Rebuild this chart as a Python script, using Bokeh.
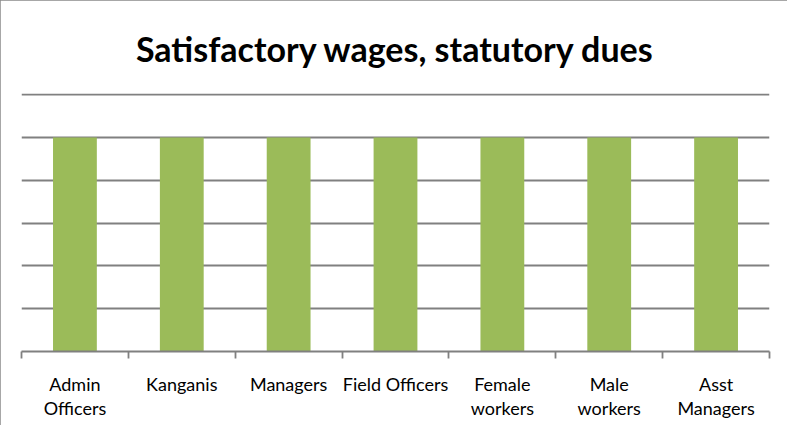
from bokeh.plotting import figure
from bokeh.models import Range1d, FixedTicker, Title
from bokeh.embed import file_html
from bokeh.resources import INLINE
import numpy as np

categories = ["Admin\nOfficers", "Kanganis", "Managers", "Field Officers",
              "Female\nworkers", "Male\nworkers", "Asst\nManagers"]
values = [100, 100, 100, 100, 100, 100, 100]
y_ticks = [0, 20, 40, 60, 80, 100, 120]

n = len(categories)
centers = np.arange(n) + 0.5
boundaries = list(np.arange(n + 1).astype(float))

p = figure(width=787, height=425, output_backend="svg", toolbar_location=None,
           x_range=Range1d(0, n), y_range=Range1d(0, 120.5),
           min_border_left=21, min_border_right=18, min_border_top=92, min_border_bottom=74)
p.styles = {"outline": "2px solid #8a8a8a", "outline-offset": "-2px"}

p.vbar(x=centers, top=values, width=0.41, color="#9BBB59", line_color=None)

p.add_layout(Title(text="Satisfactory wages, statutory dues", align="center",
                   text_font="Lato", text_font_size="34px", text_font_style="bold",
                   text_color="black", standoff=50), "above")

p.yaxis.visible = False
p.ygrid.ticker = FixedTicker(ticks=y_ticks)
p.ygrid.grid_line_color = "#808080"
p.ygrid.grid_line_width = 1.8
p.xgrid.visible = False
p.outline_line_color = None

ax = p.xaxis[0]
ax.ticker = FixedTicker(ticks=list(centers), minor_ticks=boundaries)
ax.major_label_overrides = {float(c): lab for c, lab in zip(centers, categories)}
ax.major_tick_out = 0
ax.major_tick_in = 0
ax.minor_tick_out = 7
ax.minor_tick_in = 0
ax.minor_tick_line_color = "#808080"
ax.minor_tick_line_width = 1.8
ax.axis_line_color = "#808080"
ax.axis_line_width = 1.8
ax.major_label_text_font = "Lato"
ax.major_label_text_font_size = "18px"
ax.major_label_text_color = "black"
ax.major_label_text_line_height = 1.1
ax.major_label_standoff = 14

open("out.html", "w").write(file_html(p, INLINE))
